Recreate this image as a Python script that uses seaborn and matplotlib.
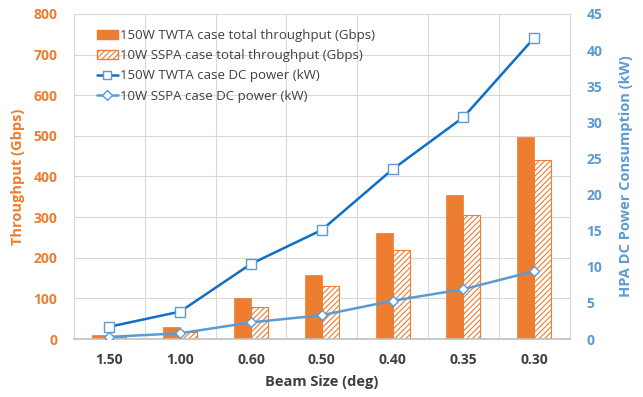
import matplotlib
matplotlib.use('Agg')
import matplotlib.pyplot as plt
import pandas as pd
import numpy as np
import seaborn as sns
from matplotlib.patches import Patch
from matplotlib.lines import Line2D

# Data
beam_sizes = ['1.50', '1.00', '0.60', '0.50', '0.40', '0.35', '0.30']
twta_throughput = [9, 30, 100, 158, 262, 354, 496]
sspa_throughput = [6, 18, 80, 130, 220, 304, 440]
twta_power = [1.7, 3.8, 10.4, 15.1, 23.5, 30.7, 41.7]
sspa_power = [0.3, 0.8, 2.3, 3.3, 5.3, 6.9, 9.4]

labels = ['150W TWTA case total throughput (Gbps)',
          '10W SSPA case total throughput (Gbps)',
          '150W TWTA case DC power (kW)',
          '10W SSPA case DC power (kW)']

orange = '#ED7D31'
dark_blue = '#0F6FC6'
light_blue = '#5B9BD5'
text_gray = '#404040'

sns.set_style('white')
plt.rcParams['font.family'] = ['Open Sans', 'DejaVu Sans']
plt.rcParams['hatch.linewidth'] = 0.8

df = pd.DataFrame({
    'beam': beam_sizes * 2,
    'value': twta_throughput + sspa_throughput,
    'case': [labels[0]] * 7 + [labels[1]] * 7,
})

fig = plt.figure(figsize=(6.43, 3.97), dpi=100)
ax = fig.add_axes([0.115, 0.146, 0.771, 0.819])

sns.barplot(data=df, x='beam', y='value', hue='case', order=beam_sizes,
            palette=[orange, orange], width=0.48, gap=0, ax=ax, legend=False,
            saturation=1)

# hatch the SSPA bars
for bar in ax.containers[1]:
    bar.set_facecolor('white')
    bar.set_edgecolor(orange)
    bar.set_hatch('//////')
    bar.set_linewidth(0.8)
for bar in ax.containers[0]:
    bar.set_edgecolor(orange)
    bar.set_linewidth(0.5)

ax.set_ylim(0, 800)
ax.set_xlim(-0.5, 6.5)
ax.set_yticks(np.arange(0, 801, 100))
ax.set_xticks(range(7))
ax.set_xticklabels(beam_sizes)
ax.set_xticks(np.arange(0.5, 6, 1), minor=True)
ax.grid(axis='y', color='#D9D9D9', linewidth=0.8)
ax.grid(axis='x', which='minor', color='#D9D9D9', linewidth=0.8)
ax.set_axisbelow(True)
ax.tick_params(axis='x', which='both', length=0, pad=10, labelsize=10,
               labelcolor=text_gray)
ax.tick_params(axis='y', length=0, pad=12, labelsize=10, labelcolor=orange)
for t in ax.get_yticklabels() + ax.get_xticklabels():
    t.set_fontweight('bold')
ax.set_xlabel('Beam Size (deg)', fontsize=10.5, fontweight='bold', color=text_gray,
              labelpad=6)
ax.set_ylabel('Throughput (Gbps)', fontsize=10.5, fontweight='bold', color=orange,
              labelpad=6)

for side in ['left', 'top', 'right']:
    ax.spines[side].set_color('#D9D9D9')
    ax.spines[side].set_linewidth(0.8)
ax.spines['bottom'].set_color('#BFBFBF')
ax.spines['bottom'].set_linewidth(1.2)

ax2 = ax.twinx()
x = np.arange(len(beam_sizes))
sns.lineplot(x=x, y=twta_power, ax=ax2, color=dark_blue, linewidth=1.8,
             marker='s', markersize=7, markerfacecolor='white',
             markeredgecolor=light_blue, markeredgewidth=1.0)
sns.lineplot(x=x, y=sspa_power, ax=ax2, color=light_blue, linewidth=1.8,
             marker='D', markersize=5.5, markerfacecolor='white',
             markeredgecolor=light_blue, markeredgewidth=1.0)
ax2.set_ylim(0, 45)
ax2.set_xlim(-0.5, 6.5)
ax2.set_yticks(np.arange(0, 46, 5))
ax2.tick_params(axis='y', length=0, pad=12, labelsize=10, labelcolor=light_blue)
for t in ax2.get_yticklabels():
    t.set_fontweight('bold')
ax2.set_ylabel('HPA DC Power Consumption (kW)', fontsize=10.5, fontweight='bold',
               color=light_blue, labelpad=12)
for side in ax2.spines:
    ax2.spines[side].set_visible(False)

# legend
handles = [
    Patch(facecolor=orange, edgecolor=orange),
    Patch(facecolor='white', edgecolor=orange, hatch='//////'),
    Line2D([], [], color=dark_blue, linewidth=1.8, marker='s', markersize=6,
           markerfacecolor='white', markeredgecolor=light_blue),
    Line2D([], [], color=light_blue, linewidth=1.8, marker='D', markersize=5,
           markerfacecolor='white', markeredgecolor=light_blue),
]
leg = ax2.legend(handles, labels, loc='upper left', bbox_to_anchor=(0.035, 0.97),
                 frameon=False, fontsize=9.5, handlelength=1.6, handletextpad=0.2,
                 labelspacing=0.55, borderaxespad=0)
for t in leg.get_texts():
    t.set_color(text_gray)

fig.savefig('out.png', dpi=100)
